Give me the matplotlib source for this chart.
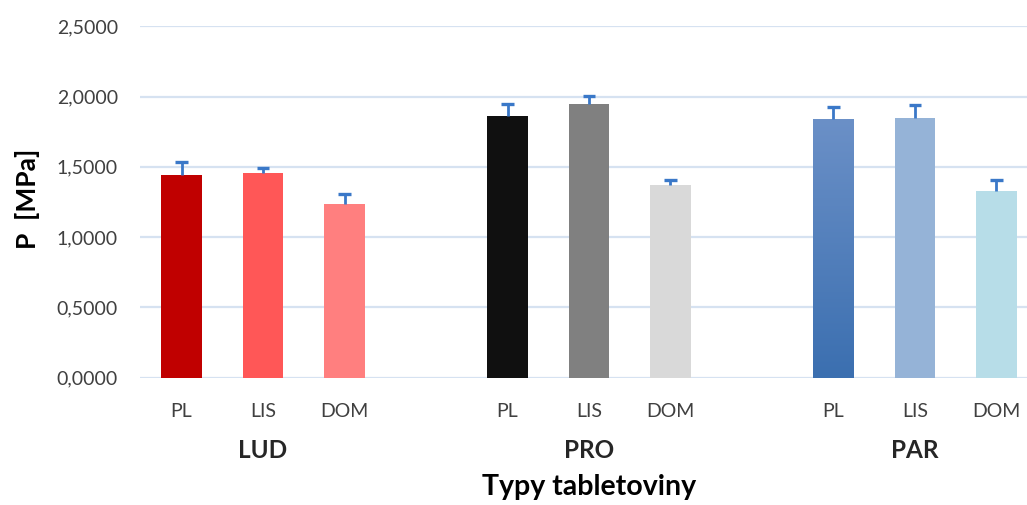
import numpy as np
import matplotlib
matplotlib.use("Agg")
import matplotlib.pyplot as plt
from matplotlib.colors import LinearSegmentedColormap
import matplotlib.transforms as mtransforms

plt.rcParams['font.family'] = ['Lato', 'DejaVu Sans']

groups = ["LUD", "PRO", "PAR"]
subcats = ["PL", "LIS", "DOM"]
values = [1.441, 1.456, 1.235,
          1.861, 1.947, 1.371,
          1.840, 1.847, 1.328]
errors = [0.090, 0.038, 0.073,
          0.088, 0.059, 0.037,
          0.085, 0.090, 0.080]
colors = ["#C00000", "#FF5757", "#FF7F7F",
          "#101010", "#808080", "#D9D9D9",
          "#517FC0", "#95B3D7", "#B7DDE8"]
yticks = [0.0, 0.5, 1.0, 1.5, 2.0, 2.5]
ytick_labels = ["0,0000", "0,5000", "1,0000", "1,5000", "2,0000", "2,5000"]
x_title = "Typy tabletoviny"
y_title = "P  [MPa]"

W, H = 1027, 505
fig = plt.figure(figsize=(W / 100, H / 100), dpi=100)
ax = fig.add_axes([140 / W, (H - 377.7) / H, 1 - 140 / W, 351.5 / H])

pos = []
for g in range(len(groups)):
    for s in range(len(subcats)):
        pos.append(g * 4 + s)
pos = np.array(pos, dtype=float)
values = np.array(values)
errors = np.array(errors)

grid_c = "#D6E2F1"
for t in yticks:
    ax.axhline(t, color=grid_c, lw=1.6, zorder=0)

bars = ax.bar(pos, values, width=0.5, color=colors, zorder=2)

# gradient for PAR PL bar
gbar = bars[6]
cmap = LinearSegmentedColormap.from_list("g", ["#3B6FB0", "#6B90C7"])
grad = np.linspace(0, 1, 256).reshape(-1, 1)
x0 = gbar.get_x()
im = ax.imshow(grad, cmap=cmap, origin="lower", aspect="auto",
               extent=[x0, x0 + gbar.get_width(), 0, gbar.get_height()], zorder=2.1)
im.set_clip_path(gbar)

# upward-only error bars
err_c = "#3A78C8"
ax.vlines(pos, values, values + errors, color=err_c, lw=2, zorder=3)
ax.hlines(values + errors, pos - 0.075, pos + 0.075, color=err_c, lw=2.4, zorder=3)

ax.set_xlim(-0.51, 10.375)
ax.set_ylim(0, 2.5)
ax.set_yticks(yticks)
ax.set_yticklabels(ytick_labels, fontsize=14, color="#404040")
ax.tick_params(axis="y", length=0, pad=16)
ax.set_xticks([])
for sp in ax.spines.values():
    sp.set_visible(False)

trans = mtransforms.blended_transform_factory(ax.transData, fig.transFigure)
for i, p in enumerate(pos):
    ax.text(p, (H - 417) / H, subcats[i % 3], transform=trans, ha="center", va="baseline",
            fontsize=14, color="#404040")
for g, name in enumerate(groups):
    ax.text(g * 4 + 1, (H - 458) / H, name, transform=trans, ha="center", va="baseline",
            fontsize=17.5, fontweight="bold", color="#262626")
ax.text(5, (H - 495) / H, x_title, transform=trans, ha="center", va="baseline",
        fontsize=20.5, fontweight="bold", color="black")
fig.text(27 / W, (H - 199) / H, y_title, rotation=90, ha="center", va="center",
         fontsize=19, fontweight="bold", color="black")

fig.savefig("out.png", dpi=100)
